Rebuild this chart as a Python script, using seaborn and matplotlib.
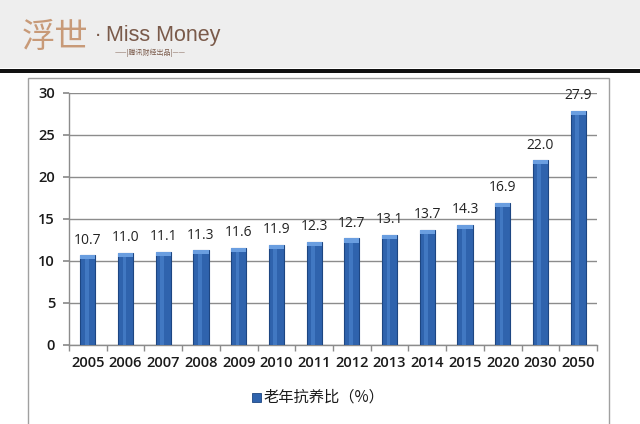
import numpy as np
import pandas as pd
import seaborn as sns
import matplotlib.pyplot as plt
from matplotlib.patches import Rectangle

years = ['2005', '2006', '2007', '2008', '2009', '2010', '2011',
         '2012', '2013', '2014', '2015', '2020', '2030', '2050']
ratio = [10.7, 11.0, 11.1, 11.3, 11.6, 11.9, 12.3,
         12.7, 13.1, 13.7, 14.3, 16.9, 22.0, 27.9]
legend_label = '老年抗养比（%）'

df = pd.DataFrame({'year': years, 'ratio': ratio})

sns.set_theme(style='white')
plt.rcParams['font.family'] = ['DejaVu Sans', 'Noto Sans CJK SC']

fig = plt.figure(figsize=(6.4, 4.24), dpi=100)
fig.patch.set_facecolor('white')

# header band + black rule
fig.patches.append(Rectangle((0, 1 - 68 / 424), 1, 68 / 424, transform=fig.transFigure,
                             facecolor='#eeeeee', edgecolor='none', zorder=0))
fig.patches.append(Rectangle((0, 1 - 73 / 424), 1, 4 / 424, transform=fig.transFigure,
                             facecolor='#111111', edgecolor='none', zorder=1))
# chart border box
fig.patches.append(Rectangle((28 / 640, -0.01), (609 - 28) / 640, 1 - 78 / 424 + 0.01,
                             transform=fig.transFigure, facecolor='none',
                             edgecolor='#a0a0a0', lw=1.0, zorder=1))

# logo
fig.text(22 / 640, 1 - 38 / 424, '浮世', family=['Noto Sans CJK SC'], fontsize=24,
         color='#c89a78', va='center', ha='left', fontweight='light')
fig.text(95 / 640, 1 - 36 / 424, '·', fontsize=14, color='#7a5a4a', va='center')
fig.text(106 / 640, 1 - 35 / 424, 'Miss Money', family=['Liberation Sans'], fontsize=15.5,
         color='#7a5a4a', va='center', ha='left')
fig.text(150 / 640, 1 - 53 / 424, '——|腾讯财经出品|——', family=['Noto Sans CJK SC', 'DejaVu Sans'],
         fontsize=5, color='#7a5a4a', va='center', ha='center')

ax = fig.add_axes([69 / 640, 1 - 345 / 424, (597 - 69) / 640, (345 - 93) / 424])
sns.barplot(data=df, x='year', y='ratio', color='#2f63ad', width=0.4,
            edgecolor='#1d4682', linewidth=0.8, saturation=1, ax=ax, zorder=3)

# lighter stripe to mimic the shaded columns
for p in ax.patches:
    x0, w, h = p.get_x(), p.get_width(), p.get_height()
    ax.add_patch(Rectangle((x0 + w * 0.3, 0), w * 0.25, h, facecolor='#4a82cc',
                           edgecolor='none', zorder=4, alpha=0.7))
    ax.add_patch(Rectangle((x0, h - 0.5), w, 0.5, facecolor='#6a9ee0',
                           edgecolor='none', zorder=4))

for i, v in enumerate(ratio):
    ax.text(i, v + 0.9, f'{v:.1f}', ha='center', va='bottom', fontsize=10,
            color='#222222', family=['Open Sans'])

ax.set_ylim(0, 30)
ax.set_xlim(-0.5, len(years) - 0.5)
ax.set_yticks(range(0, 31, 5))
ax.yaxis.grid(True, color='#8c8c8c', lw=1.0)
ax.set_axisbelow(True)
ax.set_xlabel('')
ax.set_ylabel('')
for s in ['top', 'right']:
    ax.spines[s].set_visible(False)
for s in ['left', 'bottom']:
    ax.spines[s].set_color('#8c8c8c')
    ax.spines[s].set_linewidth(1.0)
ax.set_xticks(np.arange(-0.5, len(years), 1), minor=True)
ax.tick_params(axis='x', which='minor', length=4, color='#8c8c8c', bottom=True)
ax.tick_params(axis='x', which='major', length=0, pad=8)
ax.tick_params(axis='y', length=4, color='#8c8c8c', left=True, pad=6)
for lab in ax.get_xticklabels() + ax.get_yticklabels():
    lab.set_fontsize(10.5)
    lab.set_color('#1a1a1a')
    lab.set_fontfamily('Open Sans')
    lab.set_fontweight('semibold')

# legend
fig.patches.append(Rectangle((252 / 640, 1 - 402 / 424), 9 / 640, 9 / 424,
                             transform=fig.transFigure, facecolor='#2f63ad',
                             edgecolor='#1d4682', lw=0.6))
fig.text(264 / 640, 1 - 397 / 424, legend_label, family=['Noto Sans CJK SC', 'DejaVu Sans'],
         fontsize=11, color='#1a1a1a', va='center', ha='left')

fig.savefig('out.png', dpi=100)
